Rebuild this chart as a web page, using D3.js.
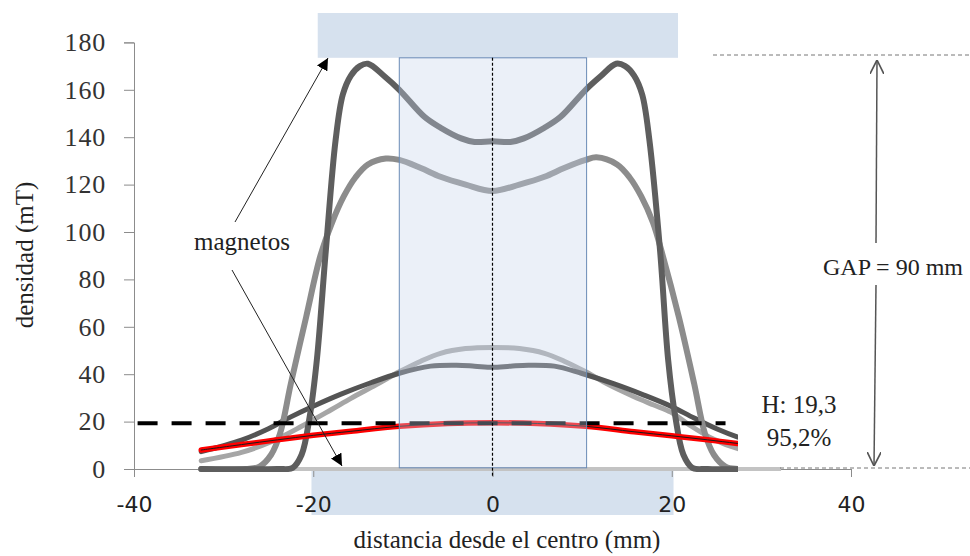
<!DOCTYPE html>
<html>
<head>
<meta charset="utf-8">
<script src="https://cdn.jsdelivr.net/npm/d3@7"></script>
<style>
  body { margin: 0; background: #ffffff; }
  svg { display: block; }
</style>
</head>
<body>
<script>

// tick labels
var xTicks = [-40, -20, 0, 20, 40]
var yTicks = [0, 20, 40, 60, 80, 100, 120, 140, 160, 180]

// tall dark curve (magnets close)
var serieA = [[-32.5, 0], [-24, 0], [-22.3, 0.5], [-21.3, 6], [-20.4, 22], [-19.6, 46], [-18.6, 92],
  [-17.5, 139], [-16.7, 158], [-15.8, 166], [-14.8, 170], [-13.9, 171], [-12, 165.5],
  [-10.4, 160], [-7.6, 148.6], [-5.8, 144], [-3.5, 139.5], [-2, 138], [0, 138.3],
  [2, 138], [3.5, 139.5], [5.8, 144], [7.6, 148.6], [10.4, 160], [12, 165.5], [13.8, 171],
  [14.8, 170], [15.8, 166], [16.7, 158], [17.5, 139], [18.7, 92], [19.6, 46], [20.4, 22],
  [21.3, 6], [22.3, 0.5], [24, 0], [32.5, 0]]

// medium gray curve
var serieB = [[-32.5, 0], [-27.5, 0], [-26, 1], [-24.7, 6], [-23.7, 15], [-22.5, 36],
  [-20.8, 64], [-19.2, 90], [-17.9, 104], [-16.6, 115], [-15.3, 123], [-13.9, 128.5],
  [-11.9, 131], [-10.4, 130.4], [-8, 127], [-5.8, 123.3], [-3, 120], [0, 117.3],
  [3, 120], [5.8, 123.3], [8, 127], [10.4, 130.4], [11.6, 131.5], [13.9, 128.5],
  [15.3, 123], [16.6, 115], [17.9, 104], [19, 90], [20.8, 64], [22.5, 36], [23.7, 15],
  [24.7, 6], [26, 1], [27.5, 0], [32.5, 0]]

// light gray bell curve
var serieC = [[-32.5, 3.5], [-28, 7], [-24.7, 11.5], [-21.4, 17.8], [-18, 25], [-15.8, 29.8],
  [-13, 35.5], [-10.4, 41], [-8, 45.5], [-5.8, 48.8], [-3, 50.8], [0, 51.3],
  [3, 50.8], [5.8, 48.8], [8, 45.5], [10.4, 41], [13, 35.5], [15.8, 30.5], [18, 27],
  [19.9, 24], [22, 18.5], [24.7, 12.5], [27.3, 8.7], [32.5, 4]]

// dark plateau curve
var serieD = [[-32.5, 7.3], [-28, 12.2], [-25, 17], [-22.5, 22], [-20, 26.5], [-16.9, 31.6],
  [-13.5, 36.5], [-10.4, 40.4], [-6.9, 43.4], [-4, 43.8], [-2, 43.4], [0, 42.9],
  [2, 43.4], [4, 43.8], [6.9, 43.4], [9.9, 40.4], [13.5, 36], [16.9, 31.2], [19.9, 26.5],
  [22.5, 21.5], [25, 17], [27.3, 13.6], [32.5, 8]]

// red curve
var serieE = [[-32.5, 8], [-28, 10.3], [-24, 12.3], [-20, 14.2], [-15.8, 15.9], [-10.4, 18],
  [-5, 19.2], [0, 19.5], [5, 19.2], [10.4, 18], [15.8, 15.7], [20, 14], [24, 12.3],
  [27.3, 10.8], [32.5, 8.5]]

// flat zero curve
var serieF = [[-32.5, 0], [32.2, 0]]

// H reference line
var serieH = [[-39.6, 19.3], [26, 19.3]]

// magnets and center zone (mm, mT)
var magnetTop = [-19.5, 20.7, 173.5, 192.4]
var magnetBottom = [-20.2, 20.2]
var zone = [-10.4, 10.5, 0.5, 173.5]

var w = 970
var h = 556

var svg = d3.select("body")
            .append("svg")
            .attr("width", w)
            .attr("height", h)

var xScale = d3.scaleLinear()
               .domain([-40, 40])
               .range([134, 851])
var yScale = d3.scaleLinear()
               .domain([0, 180])
               .range([469, 42.4])

var serif = "'Liberation Serif', 'Times New Roman', serif"
var sans = "'DejaVu Sans', sans-serif"

// clip so the curves stop at the H label and never dip under the axis
svg.append("clipPath")
   .attr("id", "cut")
   .append("rect")
   .attr("x", 0).attr("y", 0)
   .attr("width", 738).attr("height", 472)

// bottom magnet block
svg.append("rect")
   .attr("x", xScale(magnetBottom[0]))
   .attr("y", 470)
   .attr("width", xScale(magnetBottom[1]) - xScale(magnetBottom[0]))
   .attr("height", 45)
   .attr("fill", "#d6e1ee")

// top magnet block
svg.append("rect")
   .attr("x", xScale(magnetTop[0]))
   .attr("y", yScale(magnetTop[3]))
   .attr("width", xScale(magnetTop[1]) - xScale(magnetTop[0]))
   .attr("height", yScale(magnetTop[2]) - yScale(magnetTop[3]))
   .attr("fill", "#d6e1ee")

// y axis
var yAxis = svg.append("g")
   .attr("transform", "translate(134,0)")
   .call(d3.axisLeft(yScale).tickValues(yTicks).tickSize(10).tickPadding(18))
yAxis.attr("font-family", null)
yAxis.select(".domain").attr("stroke", "#8c8c8c")
yAxis.selectAll(".tick line").attr("stroke", "#8c8c8c")
yAxis.selectAll("text")
     .attr("fill", "#333333")
     .style("font-family", serif)
     .style("font-size", "26px")
     .style("letter-spacing", "0.8px")

// x axis
var xAxis = svg.append("g")
   .attr("transform", "translate(0,469)")
   .call(d3.axisBottom(xScale).tickValues(xTicks).tickSize(8).tickPadding(0).tickSizeOuter(0)
           .tickFormat(function(d) { return String(d) }))
xAxis.select(".domain").attr("stroke", "#8c8c8c")
xAxis.selectAll(".tick line").attr("stroke", "#8c8c8c")
xAxis.selectAll("text")
     .attr("y", 43)
     .attr("dy", null)
     .attr("fill", "#222222")
     .style("font-family", sans)
     .style("font-size", "22px")

var line = d3.line()
             .x(function(d) { return xScale(d[0]) })
             .y(function(d) { return yScale(d[1]) })
             .curve(d3.curveCatmullRom.alpha(0.5))

// flat zero line (not clipped)
svg.append("path")
   .attr("d", line(serieF))
   .attr("fill", "none")
   .attr("stroke", "#c3c3c3")
   .attr("stroke-width", 4)

var curves = svg.append("g").attr("clip-path", "url(#cut)")

var series = [
  {data: serieC, color: "#a6a6a6", width: 5},
  {data: serieD, color: "#545454", width: 5},
  {data: serieB, color: "#8c8c8c", width: 6},
  {data: serieA, color: "#5e5e5e", width: 6},
  {data: serieE, color: "#ff0000", width: 5.5},
  {data: serieE, color: "#1a1a1a", width: 1}
]

curves.selectAll(".serie")
      .data(series)
      .enter()
      .append("path")
      .attr("class", "serie")
      .attr("d", function(d) { return line(d.data) })
      .attr("fill", "none")
      .attr("stroke", function(d) { return d.color })
      .attr("stroke-width", function(d) { return d.width })
      .attr("stroke-linejoin", "round")
      .attr("stroke-linecap", "round")

// dashed H line
curves.append("path")
      .attr("d", d3.line().x(function(d) { return xScale(d[0]) }).y(function(d) { return yScale(d[1]) })(serieH))
      .attr("stroke", "#000000")
      .attr("stroke-width", 4)
      .attr("stroke-dasharray", "20,14")

// center zone, drawn on top with a light blue tint
svg.append("rect")
   .attr("x", xScale(zone[0]))
   .attr("y", yScale(zone[3]))
   .attr("width", xScale(zone[1]) - xScale(zone[0]))
   .attr("height", yScale(zone[2]) - yScale(zone[3]))
   .attr("fill", "#c6d5ec")
   .attr("fill-opacity", 0.35)
   .attr("stroke", "#6a8bb6")
   .attr("stroke-width", 1)

// center dotted line
svg.append("line")
   .attr("x1", xScale(0)).attr("x2", xScale(0))
   .attr("y1", yScale(zone[3])).attr("y2", 477)
   .attr("stroke", "#000000")
   .attr("stroke-width", 1.2)
   .attr("stroke-dasharray", "3,2")

// arrow markers
var defs = svg.append("defs")
defs.append("marker")
    .attr("id", "solid")
    .attr("viewBox", "0 0 10 10")
    .attr("refX", 10).attr("refY", 5)
    .attr("markerWidth", 12).attr("markerHeight", 12)
    .attr("markerUnits", "userSpaceOnUse")
    .attr("orient", "auto")
    .append("path")
    .attr("d", "M0,0L10,5L0,10Z")
    .attr("fill", "#000000")
defs.append("marker")
    .attr("id", "open")
    .attr("viewBox", "0 0 10 10")
    .attr("refX", 10).attr("refY", 5)
    .attr("markerWidth", 14).attr("markerHeight", 14)
    .attr("markerUnits", "userSpaceOnUse")
    .attr("orient", "auto")
    .append("path")
    .attr("d", "M0,0L10,5L0,10")
    .attr("fill", "none")
    .attr("stroke", "#555555")
    .attr("stroke-width", 1.2)

// magnetos label and its arrows
svg.append("text")
   .attr("x", 242).attr("y", 250)
   .attr("text-anchor", "middle")
   .style("font-family", serif)
   .style("font-size", "25px")
   .attr("fill", "#222222")
   .text("magnetos")
svg.append("line")
   .attr("x1", 235).attr("y1", 222)
   .attr("x2", 328).attr("y2", 58)
   .attr("stroke", "#222222").attr("stroke-width", 1)
   .attr("marker-end", "url(#solid)")
svg.append("line")
   .attr("x1", 232).attr("y1", 270)
   .attr("x2", 342).attr("y2", 466)
   .attr("stroke", "#222222").attr("stroke-width", 1)
   .attr("marker-end", "url(#solid)")

// gap guide lines
svg.append("line")
   .attr("x1", 713).attr("x2", w)
   .attr("y1", 55).attr("y2", 55)
   .attr("stroke", "#777777").attr("stroke-width", 1)
   .attr("stroke-dasharray", "4,3")
svg.append("line")
   .attr("x1", 780).attr("x2", w)
   .attr("y1", 468).attr("y2", 468)
   .attr("stroke", "#777777").attr("stroke-width", 1)
   .attr("stroke-dasharray", "4,3")

// gap arrows, split by the label
svg.append("line")
   .attr("x1", 876).attr("y1", 243)
   .attr("x2", 877).attr("y2", 60)
   .attr("stroke", "#555555").attr("stroke-width", 1.5)
   .attr("marker-end", "url(#open)")
svg.append("line")
   .attr("x1", 876).attr("y1", 285)
   .attr("x2", 874).attr("y2", 466)
   .attr("stroke", "#555555").attr("stroke-width", 1.5)
   .attr("marker-end", "url(#open)")

svg.append("text")
   .attr("x", 893).attr("y", 275)
   .attr("text-anchor", "middle")
   .style("font-family", serif)
   .style("font-size", "24px")
   .attr("fill", "#222222")
   .text("GAP = 90 mm")

// H value label
svg.append("text")
   .attr("x", 799).attr("y", 413)
   .attr("text-anchor", "middle")
   .style("font-family", serif)
   .style("font-size", "25px")
   .attr("fill", "#222222")
   .text("H: 19,3")
svg.append("text")
   .attr("x", 799).attr("y", 446)
   .attr("text-anchor", "middle")
   .style("font-family", serif)
   .style("font-size", "25px")
   .attr("fill", "#222222")
   .text("95,2%")

// axis titles
svg.append("text")
   .attr("x", 507).attr("y", 548)
   .attr("text-anchor", "middle")
   .style("font-family", serif)
   .style("font-size", "25px")
   .attr("fill", "#222222")
   .text("distancia desde el centro (mm)")
svg.append("text")
   .attr("transform", "translate(33,255) rotate(-90)")
   .attr("text-anchor", "middle")
   .style("font-family", serif)
   .style("font-size", "25px")
   .attr("fill", "#222222")
   .text("densidad (mT)")

</script>
</body>
</html>
